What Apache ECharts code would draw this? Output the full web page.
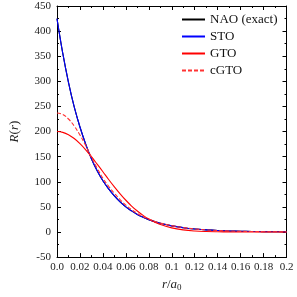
<!DOCTYPE html>
<html>
<head>
<meta charset="utf-8">
<script src="https://cdn.jsdelivr.net/npm/echarts@6/dist/echarts.min.js"></script>
<style>html,body{margin:0;padding:0;background:#fff}#c{width:297px;height:297px}</style>
</head>
<body>
<div id="c"></div>
<script>
const rValues = [0,0.005,0.01,0.015,0.02,0.025,0.03,0.035,0.04,0.045,0.05,0.055,0.06,0.065,0.07,0.075,0.08,0.085,0.09,0.1,0.11,0.12,0.13,0.14,0.15,0.16,0.17,0.18,0.19,0.2];
const naoValues = [425,356,298,249,209,175,146,122,102,86,72,60,50,42,35,29.4,24.6,20.6,17.3,12.1,8.5,5.9,4.2,2.9,2.0,1.4,1.0,0.7,0.5,0.3];
const stoValues = [425,356,298,249,209,175,146,122,102,86,72,60,50,42,35,29.4,24.6,20.6,17.3,12.1,8.5,5.9,4.2,2.9,2.0,1.4,1.0,0.7,0.5,0.3];
const gtoValues = [200,198.4,193.7,186.1,176,163.7,150,135.1,119.9,104.6,89.9,76,63.2,51.7,41.7,33.1,25.8,19.8,15,8.2,4.2,2,0.9,0.4,0.15,0.05,0,0,0,0];
const cgtoValues = [237,234,225,211,193,172,149,127,107,91,77,64.5,53.5,44.5,37,31,25.8,21.5,18,12.6,8.8,6.1,4.2,2.9,2,1.3,0.9,0.6,0.4,0.2];
const seriesNames = ['NAO (exact)','STO','GTO','cGTO'];
const xTickLabels = ['0.0','0.02','0.04','0.06','0.08','0.1','0.12','0.14','0.16','0.18','0.2'];

const font = 'Liberation Serif';
const pair = v => rValues.map((x,i)=>[x,v[i]]);
const tickCommon = {show:true, inside:true, length:4, lineStyle:{color:'#000',width:1}};
const minorCommon = {show:true, splitNumber:2, length:2, lineStyle:{color:'#000',width:1}};

const chart = echarts.init(document.getElementById('c'), null, {renderer:'canvas'});
chart.setOption({
  animation:false,
  backgroundColor:'#fff',
  grid:{left:48, right:10.5, top:6, bottom:39, show:false},
  legend:{
    orient:'vertical', left:176, top:8, itemWidth:23, itemHeight:10, itemGap:4,
    itemStyle:{opacity:0},
    textStyle:{fontFamily:font, fontSize:13, color:'#111'},
    data:seriesNames.map(n=>({name:n}))
  },
  xAxis:[{
    type:'value', min:0, max:0.2, interval:0.02,
    axisLine:{show:true, onZero:false, lineStyle:{color:'#000',width:1}},
    axisTick:tickCommon, minorTick:minorCommon, splitLine:{show:false},
    axisLabel:{fontFamily:font, fontSize:11, color:'#222', margin:5,
      formatter:(v)=>{const i=Math.round(v/0.02); return xTickLabels[i]!==undefined?xTickLabels[i]:'';}},
    name:'{i|r}{n|/}{i|a}{s|0}', nameLocation:'middle', nameGap:16,
    nameTextStyle:{rich:{
      i:{fontFamily:font, fontStyle:'italic', fontSize:13, color:'#222'},
      n:{fontFamily:font, fontSize:13, color:'#222'},
      s:{fontFamily:font, fontSize:9, color:'#222', verticalAlign:'bottom', padding:[6,0,0,0]}
    }}
  },{
    type:'value', position:'top', min:0, max:0.2, interval:0.02,
    axisLine:{show:true, onZero:false, lineStyle:{color:'#000',width:1}},
    axisTick:tickCommon, minorTick:minorCommon, splitLine:{show:false}, axisLabel:{show:false}
  }],
  yAxis:[{
    type:'value', min:-50, max:450, interval:50,
    axisLine:{show:true, onZero:false, lineStyle:{color:'#000',width:1}},
    axisTick:tickCommon, minorTick:minorCommon, splitLine:{show:false},
    axisLabel:{fontFamily:font, fontSize:11, color:'#222', margin:6},
    name:'{i|R}{n|(}{i|r}{n|)}', nameLocation:'middle', nameGap:36, nameRotate:90,
    nameTextStyle:{rich:{
      i:{fontFamily:font, fontStyle:'italic', fontSize:13, color:'#222'},
      n:{fontFamily:font, fontSize:13, color:'#222'}
    }}
  },{
    type:'value', position:'right', min:-50, max:450, interval:50,
    axisLine:{show:true, onZero:false, lineStyle:{color:'#000',width:1}},
    axisTick:tickCommon, minorTick:minorCommon, splitLine:{show:false}, axisLabel:{show:false}
  }],
  series:[
    {name:seriesNames[0], type:'line', data:pair(naoValues), symbol:'none', smooth:0.4,
      itemStyle:{color:'#000'}, lineStyle:{color:'#000', width:1.1}},
    {name:seriesNames[1], type:'line', data:pair(stoValues), symbol:'none', smooth:0.4,
      itemStyle:{color:'#0000ff'}, lineStyle:{color:'#0000ff', width:1.1}},
    {name:seriesNames[2], type:'line', data:pair(gtoValues), symbol:'none', smooth:0.4,
      itemStyle:{color:'#ff0000'}, lineStyle:{color:'#ff0000', width:1.1}},
    {name:seriesNames[3], type:'line', data:pair(cgtoValues), symbol:'none', smooth:0.4,
      itemStyle:{color:'#ff3333'}, lineStyle:{color:'#ff3333', width:1.1, type:[4,2]}}
  ]
});
</script>
</body>
</html>
